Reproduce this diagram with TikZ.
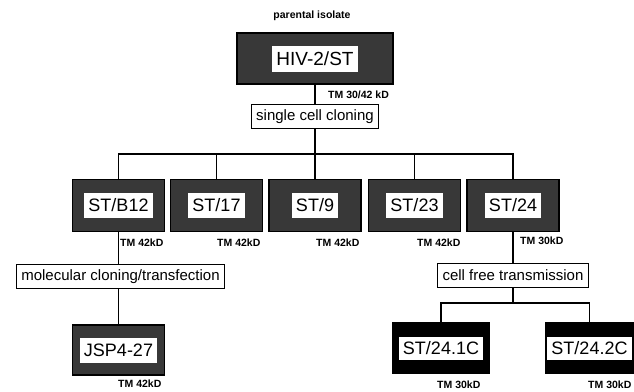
\documentclass[tikz,border=0pt]{standalone}
\usepackage{fontspec}
\setmainfont{Liberation Sans}
\begin{document}
\begin{tikzpicture}[x=1pt,y=-1pt,
  shadedbox/.style={draw=black, line width=1.4pt, fill=black!78, minimum width=92pt, minimum height=52pt, inner sep=0pt},
  blackbox/.style={draw=black, line width=1.4pt, fill=black, minimum width=92pt, minimum height=50pt, inner sep=0pt},
  label/.style={fill=white, inner xsep=4pt, inner ysep=0pt, minimum height=25pt, font=\fontsize{18}{18}\selectfont},
  proc/.style={draw=black, fill=white, line width=0.9pt, inner xsep=5pt, inner ysep=0pt, minimum height=24pt, font=\fontsize{15}{15}\selectfont},
  tm/.style={anchor=west, inner sep=0pt, font=\bfseries\fontsize{10.5}{10.5}\selectfont},
  conn/.style={line width=1.7pt}]
\useasboundingbox (0,0) rectangle (634,391);
% top
\node[inner sep=0pt, font=\bfseries\fontsize{10.5}{10.5}\selectfont] (par) at (312,16) {parental isolate};
\node[shadedbox, minimum width=156pt, minimum height=51pt] (hiv) at (315,58.5) {};
\node[label, font=\fontsize{19}{19}\selectfont, minimum height=26pt] (hivt) at (hiv.center) {HIV-2/ST};
\node[tm] (tmhiv) at (328,95) {TM 30/42 kD};
\node[proc] (scc) at (315,116.5) {single cell cloning};
% row 2
\node[shadedbox] (b1) at (118.5,205.5) {};
\node[label] (b1t) at (b1.center) {ST/B12};
\node[shadedbox] (b2) at (216.5,205.5) {};
\node[label] (b2t) at (b2.center) {ST/17};
\node[shadedbox] (b3) at (315,205.5) {};
\node[label] (b3t) at (b3.center) {ST/9};
\node[shadedbox] (b4) at (414.5,205.5) {};
\node[label] (b4t) at (b4.center) {ST/23};
\node[shadedbox] (b5) at (513,205.5) {};
\node[label] (b5t) at (b5.center) {ST/24};
\node[tm] (tm1) at (120,243) {TM 42kD};
\node[tm] (tm2) at (217,243) {TM 42kD};
\node[tm] (tm3) at (316,243) {TM 42kD};
\node[tm] (tm4) at (417,243) {TM 42kD};
\node[tm] (tm5) at (520,241) {TM 30kD};
% process boxes
\node[proc] (mc) at (120.5,276.5) {molecular cloning/transfection};
\node[proc] (cf) at (513,275) {cell free transmission};
% row 3
\node[shadedbox, minimum height=50pt] (jsp) at (118.5,350) {};
\node[label] (jspt) at (jsp.center) {JSP4-27};
\node[tm] (tmj) at (118,384) {TM 42kD};
\node[blackbox, minimum width=96pt] (c1) at (441,348) {};
\node[label, minimum height=23pt] (c1t) at (c1.center) {ST/24.1C};
\node[blackbox, minimum width=88pt] (c2) at (589.5,348) {};
\node[label, minimum height=23pt] (c2t) at (c2.center) {ST/24.2C};
\node[tm] (tmc1) at (437,385) {TM 30kD};
\node[tm] (tmc2) at (588,385) {TM 30kD};
% connectors
\coordinate (bar) at (315,154);
\coordinate (br) at (513,303);
\draw[conn] (hiv.south) -- (scc.north);
\draw[conn] (scc.south) -- (bar);
\draw[conn] (b1.north) |- (bar) -| (b5.north);
\draw[conn] (b2.north) -- (b2.north |- bar);
\draw[conn] (b3.north) -- (b3.north |- bar);
\draw[conn] (b4.north) -- (b4.north |- bar);
\draw[conn] (b1.south) -- (b1.south |- mc.north);
\draw[conn] (b1.south |- mc.south) -- (jsp.north);
\draw[conn] (b5.south) -- (cf.north);
\draw[conn] (cf.south) -- (br);
\draw[conn] (c1.north) |- (br) -| (c2.north);
\end{tikzpicture}
\end{document}
